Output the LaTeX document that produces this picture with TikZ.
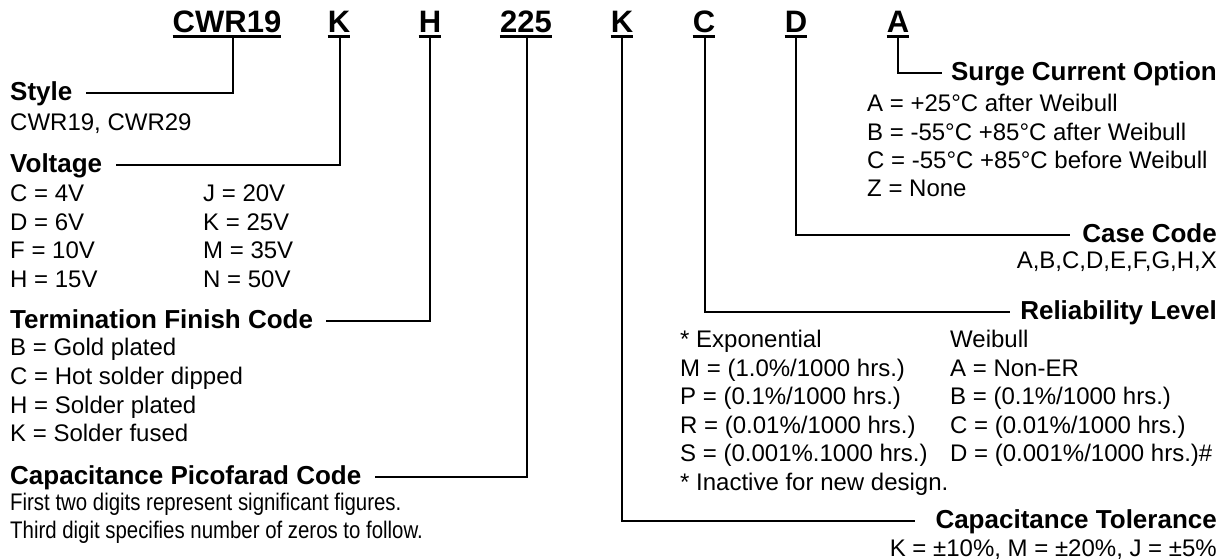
\documentclass[tikz,border=0pt]{standalone}
\usepackage{fontspec}
\setmainfont{Liberation Sans}
\usetikzlibrary{calc}
\begin{document}
\begin{tikzpicture}[x=1pt,y=-1pt,
  code/.style={font=\fontsize{31}{31}\selectfont\bfseries, inner sep=0pt, anchor=base},
  lbl/.style={font=\fontsize{26}{26}\selectfont\bfseries, inner sep=0pt, text height=18.6pt, text depth=4pt},
  txt/.style={font=\fontsize{24}{24}\selectfont, inner sep=0pt, anchor=base west},
  txtr/.style={font=\fontsize{24}{24}\selectfont, inner sep=0pt, anchor=base east},
  conn/.style={line width=2.6pt},
  uline/.style={line width=3pt}]
\useasboundingbox (0,0) rectangle (1225,559);

% part number codes
\node[code] (cA) at (227,33) {CWR19};
\node[code] (cB) at (339,33) {K};
\node[code] (cC) at (430,33) {H};
\node[code] (cD) at (526,33) {225};
\node[code] (cE) at (622,33) {K};
\node[code] (cF) at (704,33) {C};
\node[code] (cG) at (796,33) {D};
\node[code] (cH) at (898,33) {A};
\foreach \n in {cA,cB,cC,cD,cE,cF,cG,cH}
  \draw[uline] ([yshift=-3.5pt]\n.base west) -- ([yshift=-3.5pt]\n.base east);

% section labels
\node[lbl, anchor=west] (lStyle) at (10,93) {Style};
\node[lbl, anchor=west] (lVolt) at (10,165) {Voltage};
\node[lbl, anchor=west] (lTerm) at (10,321) {Termination Finish Code};
\node[lbl, anchor=west] (lPico) at (10,477) {Capacitance Picofarad Code};
\node[lbl, anchor=east] (lSurge) at (1217,73) {Surge Current Option};
\node[lbl, anchor=east] (lCase) at (1217,235) {Case Code};
\node[lbl, anchor=east] (lRel) at (1217,312) {Reliability Level};
\node[lbl, anchor=east] (lTol) at (1217,521) {Capacitance Tolerance};

% connectors
\draw[conn] ([xshift=6pt,yshift=-3.5pt]cA.base) |- ([xshift=13pt]lStyle.east);
\draw[conn] ([xshift=1pt,yshift=-3.5pt]cB.base) |- ([xshift=14pt]lVolt.east);
\draw[conn] ([yshift=-3.5pt]cC.base) |- ([xshift=13pt]lTerm.east);
\draw[conn] ([xshift=1pt,yshift=-3.5pt]cD.base) |- ([xshift=13pt]lPico.east);
\draw[conn] ([yshift=-3.5pt]cE.base) |- ([xshift=-20pt]lTol.west);
\draw[conn] ([xshift=1pt,yshift=-3.5pt]cF.base) |- ([xshift=-10pt]lRel.west);
\draw[conn] ([yshift=-3.5pt]cG.base) |- ([xshift=-12pt]lCase.west);
\draw[conn] ([yshift=-3.5pt]cH.base) |- ([xshift=-9pt]lSurge.west);

% Style
\node[txt] (s1) at (10,130.6) {CWR19, CWR29};
% Voltage
\node[txt] (v1) at (10,201.6) {C = 4V};
\node[txt] (v2) at (10,230.1) {D = 6V};
\node[txt] (v3) at (10,258.6) {F = 10V};
\node[txt] (v4) at (10,287.1) {H = 15V};
\node[txt] (v5) at (203,201.6) {J = 20V};
\node[txt] (v6) at (203,230.1) {K = 25V};
\node[txt] (v7) at (203,258.6) {M = 35V};
\node[txt] (v8) at (203,287.1) {N = 50V};
% Termination
\node[txt] (t1) at (10,355.6) {B = Gold plated};
\node[txt] (t2) at (10,384.6) {C = Hot solder dipped};
\node[txt] (t3) at (10,413.6) {H = Solder plated};
\node[txt] (t4) at (10,441.6) {K = Solder fused};
% Picofarad
\node[txt] (p1) at (10,510) {\scalebox{0.85}[1]{First two digits represent significant figures.}};
\node[txt] (p2) at (10,538.5) {\scalebox{0.85}[1]{Third digit specifies number of zeros to follow.}};
% Surge
\node[txt] (u1) at (867,112) {A = +25°C after Weibull};
\node[txt] (u2) at (867,140.3) {B = -55°C +85°C after Weibull};
\node[txt] (u3) at (867,168.6) {C = -55°C +85°C before Weibull};
\node[txt] (u4) at (867,196.8) {Z = None};
% Case
\node[txtr] (k1) at (1217,268.6) {A,B,C,D,E,F,G,H,X};
% Reliability
\node[txt] (r1) at (680,347.6) {* Exponential};
\node[txt] (r2) at (680,376.1) {M = (1.0\%/1000 hrs.)};
\node[txt] (r3) at (680,404.6) {P = (0.1\%/1000 hrs.)};
\node[txt] (r4) at (680,433.1) {R = (0.01\%/1000 hrs.)};
\node[txt] (r5) at (680,461.6) {S = (0.001\%.1000 hrs.)};
\node[txt] (r6) at (680,490.1) {* Inactive for new design.};
\node[txt] (w1) at (950,347.6) {Weibull};
\node[txt] (w2) at (950,376.1) {A = Non-ER};
\node[txt] (w3) at (950,404.6) {B = (0.1\%/1000 hrs.)};
\node[txt] (w4) at (950,433.1) {C = (0.01\%/1000 hrs.)};
\node[txt] (w5) at (950,461.6) {D = (0.001\%/1000 hrs.)\#};
% Tolerance
\node[txtr] (o1) at (1217,556) {K = ±10\%, M = ±20\%, J = ±5\%};
\end{tikzpicture}
\end{document}
